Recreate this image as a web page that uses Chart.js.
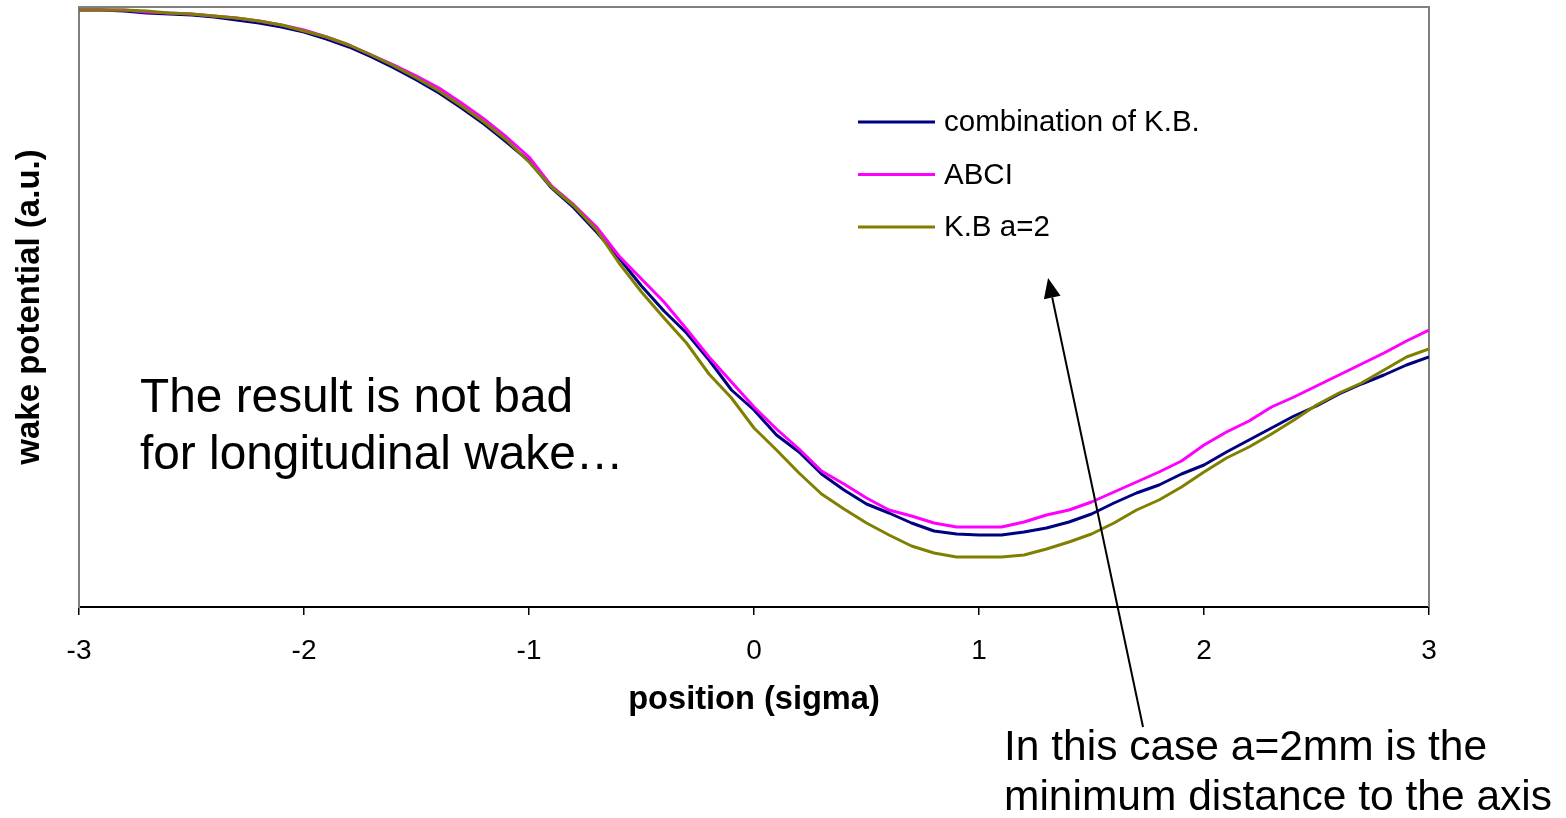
<!DOCTYPE html>
<html><head><meta charset="utf-8">
<script src="https://cdn.jsdelivr.net/npm/chart.js@4.4.1/dist/chart.umd.min.js"></script>
<style>html,body{margin:0;padding:0;background:#fff;}#wrap{width:1566px;height:818px;position:relative;}</style>
</head><body><div id="wrap"><canvas id="c" width="1566" height="818"></canvas></div>
<script>
// ---- data (position in sigma, wake potential in a.u.) ----
const positions = [-3.0,-2.9,-2.8,-2.7,-2.6,-2.5,-2.4,-2.3,-2.2,-2.1,
  -2.0,-1.9,-1.8,-1.7,-1.6,-1.5,-1.4,-1.3,-1.2,-1.1,
  -1.0,-0.9,-0.8,-0.7,-0.6,-0.5,-0.4,-0.3,-0.2,-0.1,
  0.0,0.1,0.2,0.3,0.4,0.5,0.6,0.7,0.8,0.9,
  1.0,1.1,1.2,1.3,1.4,1.5,1.6,1.7,1.8,1.9,
  2.0,2.1,2.2,2.3,2.4,2.5,2.6,2.7,2.8,2.9,3.0];
const combinationKB = [597,597,596,594,593,592,590,587,584,580,
  575,568,560,550,539,527,514,499,483,465,
  446,419,399,375,349,321,296,274,247,217,
  197,172,155,133,117,103,94,84,76,73,
  72,72,75,79,85,93,104,114,122,133,
  142,155,167,179,191,201,213,223,232,242,250];
const abci = [597,597,597,595,594,593,591,589,586,582,
  577,570,562,552,542,531,519,504,488,470,
  450,421,402,380,351,328,305,278,250,225,
  200,178,158,136,123,109,97,91,84,80,
  80,80,85,92,97,105,115,125,135,146,
  162,175,186,200,210,221,232,243,254,266,277];
const kbA2 = [597,597,597,596,594,593,591,589,586,582,
  576,570,562,552,541,529,516,501,485,467,
  445,420,401,377,344,315,289,264,233,209,
  179,157,134,113,98,84,72,61,54,50,
  50,50,52,58,65,73,84,97,107,120,
  135,149,160,173,187,202,214,224,237,250,258];
const seriesNames = ['combination of K.B.', 'ABCI', 'K.B a=2'];
const xTickLabels = ['-3','-2','-1','0','1','2','3'];
const xTitle = 'position (sigma)';
const yTitle = 'wake potential (a.u.)';
const note1 = ['The result is not bad', 'for longitudinal wake\u2026'];
const note2 = ['In this case a=2mm is the', 'minimum distance to the axis'];
const arrowFrom = {x: 1.729, y: -120};
const arrowTo = {x: 1.307, y: 329};

// ---- styling / layout ----
const FONT = '"Liberation Sans", Arial, Helvetica, sans-serif';
Chart.defaults.font.family = FONT;
Chart.defaults.color = '#000';
const colors = ['#000080', '#FF00FF', '#808000'];

function toPoints(arr){ return positions.map((p,i)=>({x:p, y:arr[i]})); }

const overlay = {
  id: 'overlay',
  beforeDatasetsDraw(chart){
    const {ctx, chartArea:a} = chart;
    ctx.save();
    ctx.strokeStyle = '#808080';
    ctx.lineWidth = 2;
    ctx.beginPath();
    ctx.moveTo(a.left, a.top); ctx.lineTo(a.right, a.top); ctx.lineTo(a.right, a.bottom);
    ctx.stroke();
    ctx.restore();
  },
  afterDraw(chart){
    const {ctx, scales:{x, y}} = chart;
    ctx.save();
    // legend
    const legX0 = 858, legX1 = 935, legTextX = 944, legY0 = 122, legDY = 52.5;
    ctx.font = '29.5px ' + FONT;
    ctx.textBaseline = 'middle';
    ctx.textAlign = 'left';
    chart.data.datasets.forEach((ds, i) => {
      const yy = legY0 + i*legDY;
      ctx.strokeStyle = ds.borderColor; ctx.lineWidth = 3;
      ctx.beginPath(); ctx.moveTo(legX0, yy); ctx.lineTo(legX1, yy); ctx.stroke();
      ctx.fillStyle = '#000';
      ctx.fillText(ds.label, legTextX, yy + 1);
    });
    // notes
    ctx.font = '47.8px ' + FONT;
    ctx.fillText(note1[0], 140, 399);
    ctx.fillText(note1[1], 140, 456);
    ctx.font = '42.5px ' + FONT;
    ctx.fillText(note2[0], 1004, 748);
    ctx.fillText(note2[1], 1004, 798);
    // arrow
    const x0 = x.getPixelForValue(arrowFrom.x), y0 = y.getPixelForValue(arrowFrom.y);
    const x1 = x.getPixelForValue(arrowTo.x), y1 = y.getPixelForValue(arrowTo.y);
    const ang = Math.atan2(y1 - y0, x1 - x0);
    const hl = 20, hw = 8.5;
    const bx = x1 - hl*Math.cos(ang), by = y1 - hl*Math.sin(ang);
    ctx.strokeStyle = '#000'; ctx.lineWidth = 2;
    ctx.beginPath(); ctx.moveTo(x0, y0); ctx.lineTo(bx, by); ctx.stroke();
    ctx.fillStyle = '#000';
    ctx.beginPath();
    ctx.moveTo(x1, y1);
    ctx.lineTo(bx + hw*Math.sin(ang), by - hw*Math.cos(ang));
    ctx.lineTo(bx - hw*Math.sin(ang), by + hw*Math.cos(ang));
    ctx.closePath(); ctx.fill();
    ctx.restore();
  }
};

new Chart(document.getElementById('c'), {
  type: 'line',
  data: {
    datasets: [
      {label: seriesNames[0], data: toPoints(combinationKB), borderColor: colors[0], order: 3},
      {label: seriesNames[1], data: toPoints(abci), borderColor: colors[1], order: 2},
      {label: seriesNames[2], data: toPoints(kbA2), borderColor: colors[2], order: 1}
    ]
  },
  options: {
    responsive: false,
    animation: false,
    devicePixelRatio: 1,
    parsing: false,
    elements: {
      line: {borderWidth: 3, tension: 0, fill: false, borderJoinStyle: 'round'},
      point: {radius: 0, hoverRadius: 0}
    },
    layout: {padding: {left: 0, top: 7, right: 137, bottom: 0}},
    plugins: {legend: {display: false}, tooltip: {enabled: false}},
    scales: {
      x: {
        type: 'linear', min: -3, max: 3,
        afterFit(s){ s.height = 211; },
        afterBuildTicks(s){ s.ticks = xTickLabels.map(t => ({value: Number(t)})); },
        ticks: {
          font: {size: 28}, color: '#000', padding: 19,
          callback: (v) => xTickLabels[xTickLabels.indexOf(String(v))] ?? ''
        },
        grid: {drawOnChartArea: false, drawTicks: true, tickLength: 8, color: '#000', lineWidth: 1.5},
        border: {display: true, color: '#000', width: 2},
        title: {display: true, text: xTitle, font: {size: 32.6, weight: 'bold'}, color: '#000', padding: {top: 0, bottom: 98}}
      },
      y: {
        type: 'linear', min: 0, max: 600,
        afterFit(s){ s.width = 79; },
        ticks: {display: false},
        grid: {display: false, drawTicks: false},
        border: {display: true, color: '#808080', width: 2},
        title: {display: true, text: yTitle, font: {size: 33, weight: 'bold'}, color: '#000', padding: {top: 10, bottom: 0}}
      }
    }
  },
  plugins: [overlay]
});
</script>
</body></html>
